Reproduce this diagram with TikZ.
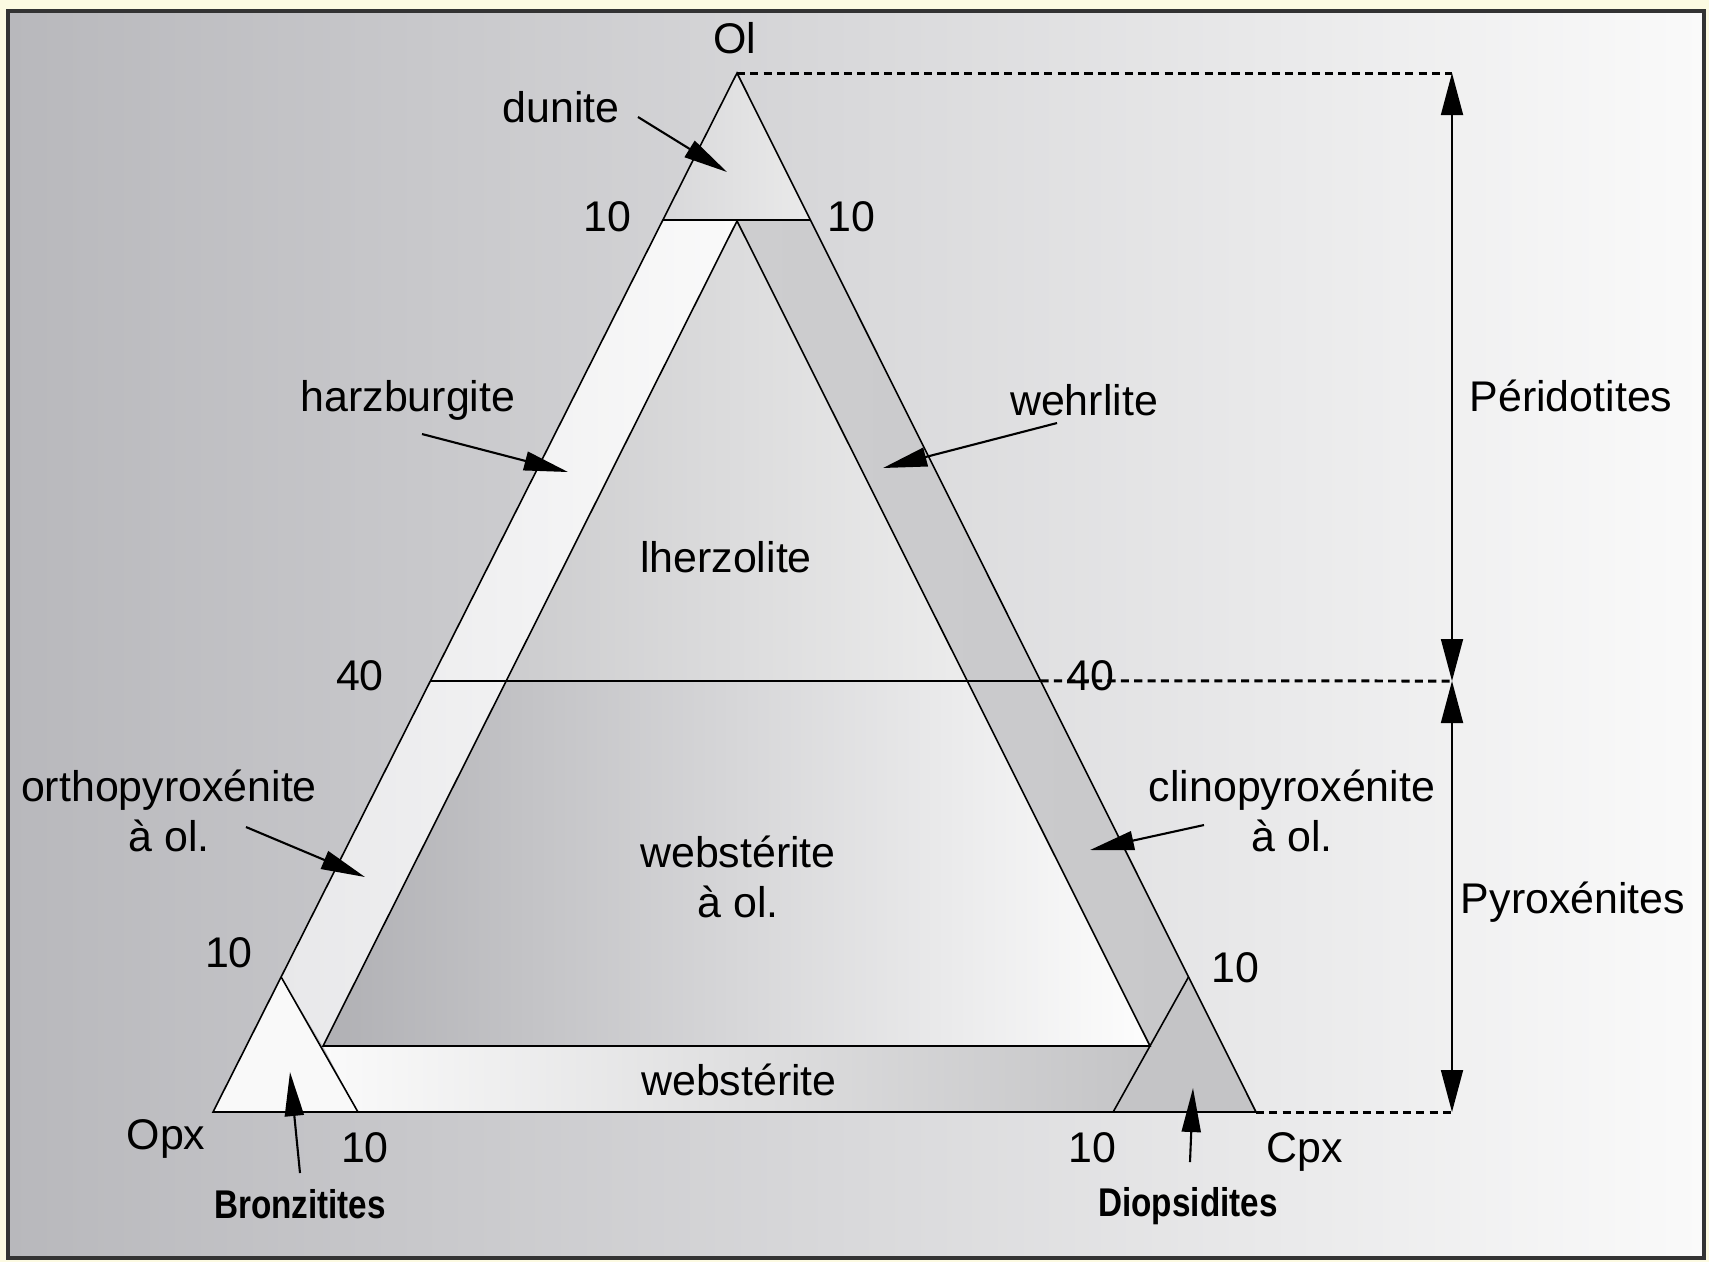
\documentclass[tikz,border=0pt]{standalone}
\usepackage{fontspec}
\usepackage{graphicx}
\setmainfont{Liberation Sans}
\usetikzlibrary{arrows.meta,calc}
\definecolor{bgyellow}{RGB}{252,250,226}
\definecolor{panelL}{RGB}{184,184,188}
\definecolor{panelR}{RGB}{250,250,250}
\definecolor{dunL}{RGB}{216,216,218}
\definecolor{dunR}{RGB}{234,234,234}
\definecolor{harL}{RGB}{232,232,234}
\definecolor{harR}{RGB}{250,250,250}
\definecolor{wehL}{RGB}{205,205,207}
\definecolor{wehR}{RGB}{200,200,202}
\definecolor{websL}{RGB}{250,250,250}
\definecolor{websR}{RGB}{196,196,198}
\definecolor{bronC}{RGB}{249,249,249}
\definecolor{diopC}{RGB}{196,196,198}
\definecolor{lheL}{RGB}{204,204,206}
\definecolor{lheR}{RGB}{236,236,236}
\definecolor{wolL}{RGB}{176,176,180}
\definecolor{wolR}{RGB}{253,253,253}
\begin{document}
\begin{tikzpicture}[x=0.01cm,y=-0.01cm,
  edge/.style={draw=black, line width=0.45pt},
  dimdash/.style={draw=black, line width=0.85pt, dash pattern=on 2.3pt off 1.5pt},
  dimarrow/.style={draw=black, line width=0.5pt, {Triangle[length=0.42cm,width=0.22cm]}-{Triangle[length=0.42cm,width=0.22cm]}},
  ptr/.style={draw=black, line width=0.6pt, -{Triangle[length=0.44cm,width=0.19cm]}},
  lbl/.style={font=\fontsize{12.2}{14}\selectfont, inner sep=0pt, align=center},
  blbl/.style={font=\bfseries\fontsize{11.4}{13}\selectfont, inner sep=0pt}]
\useasboundingbox (0,0) rectangle (1709,1262);
\fill[bgyellow] (0,0) rectangle (1709,1262);
\shade[left color=panelL, right color=panelR] (8,11) rectangle (1704,1258);
\draw[line width=0.9pt, draw=black!80] (8,11) rectangle (1704,1258);

% main vertices
\coordinate (A) at (737,73);
\coordinate (B) at (213,1112);
\coordinate (C) at (1256,1112);
\coordinate (Ia) at (737,221);
\coordinate (Il) at (323,1046);
\coordinate (Ir) at (1150,1046);
\coordinate (Lt) at ($(A)!0.1415!(B)$);
\coordinate (Rt) at ($(A)!0.1415!(C)$);
\coordinate (L40) at ($(A)!0.585!(B)$);
\coordinate (R40) at ($(A)!0.585!(C)$);
\coordinate (IL40) at ($(Ia)!0.557!(Il)$);
\coordinate (IR40) at ($(Ia)!0.557!(Ir)$);
\coordinate (Lb) at ($(A)!0.87!(B)$);
\coordinate (Rb) at ($(A)!0.87!(C)$);
\coordinate (Bb) at ($(B)!0.139!(C)$);
\coordinate (Cb) at ($(C)!0.137!(B)$);
\coordinate (DT) at (1452,73);
\coordinate (DM) at (1452,681);
\coordinate (DB) at (1452,1112);

% region fills
\shade[left color=dunL, right color=dunR] (A) -- (Rt) -- (Lt) -- cycle;
\shade[left color=harL, right color=harR] (Lt) -- (Ia) -- (Il) -- (Lb) -- cycle;
\shade[left color=wehL, right color=wehR] (Ia) -- (Rt) -- (Rb) -- (Ir) -- cycle;
\shade[left color=websL, right color=websR] (Il) -- (Ir) -- (Cb) -- (Bb) -- cycle;
\fill[bronC] (Lb) -- (B) -- (Bb) -- cycle;
\fill[diopC] (Rb) -- (C) -- (Cb) -- cycle;
\shade[left color=lheL, right color=lheR] (Ia) -- (IR40) -- (IL40) -- cycle;
\shade[left color=wolL, right color=wolR] (IL40) -- (IR40) -- (Ir) -- (Il) -- cycle;

% lines
\draw[edge] (A) -- (B) -- (C) -- cycle;
\draw[edge] (Ia) -- (Il) -- (Ir) -- cycle;
\draw[edge] (Lt) -- (Rt);
\draw[edge] (L40) -- (R40);
\draw[edge] (Lb) -- (Bb);
\draw[edge] (Rb) -- (Cb);

% dimension lines
\draw[dimdash] (A) -- (DT);
\draw[dimdash] (R40) -- (DM);
\draw[dimdash] (C) -- (DB);
\draw[dimarrow] (DT) -- (DM);
\draw[dimarrow] (DM) -- (DB);

% labels
\node[lbl] (ol) at (735,38) {Ol};
\node[lbl] (dun) at (561,107) {dunite};
\node[lbl] (t10l) at (607,217) {10};
\node[lbl] (t10r) at (851,217) {10};
\node[lbl] (harz) at (408,400) {harzburgite};
\node[lbl] (wehr) at (1084,400) {wehrlite};
\node[lbl] (peri) at (1571,396) {Péridotites};
\node[lbl] (lherz) at (726,557) {lherzolite};
\node[lbl] (f40l) at (360,676) {40};
\node[lbl] (f40r) at (1090,676) {40};
\node[lbl] (orth) at (169,811) {orthopyroxénite\\à ol.};
\node[lbl] (clin) at (1292,811) {clinopyroxénite\\à ol.};
\node[lbl] (webol) at (738,877) {webstérite\\à ol.};
\node[lbl] (pyro) at (1573,902) {Pyroxénites};
\node[lbl] (b10l) at (229,953) {10};
\node[lbl] (b10r) at (1235,968) {10};
\node[lbl] (webs) at (739,1080) {webstérite};
\node[lbl] (opx) at (166,1139) {Opx};
\node[lbl] (c10l) at (365,1148) {10};
\node[lbl] (c10r) at (1092,1148) {10};
\node[lbl] (cpx) at (1305,1152) {Cpx};
\node[blbl] (bron) at (300,1204) {\scalebox{0.83}[1]{Bronzitites}};
\node[blbl] (diop) at (1188,1206) {\scalebox{0.83}[1]{Diopsidites}};

% pointer arrows
\coordinate (dunS) at (638,117); \coordinate (dunT) at (727,172);
\coordinate (harS) at (422,434); \coordinate (harT) at (568,472);
\coordinate (wehS) at (1057,423); \coordinate (wehT) at (883,468);
\coordinate (ortS) at (246,827); \coordinate (ortT) at (365,877);
\coordinate (cliS) at (1204,825); \coordinate (cliT) at (1090,850);
\coordinate (broS) at (300,1173); \coordinate (broT) at (290,1072);
\coordinate (dioS) at (1190,1162); \coordinate (dioT) at (1193,1088);
\draw[ptr] (dunS) -- (dunT);
\draw[ptr] (harS) -- (harT);
\draw[ptr] (wehS) -- (wehT);
\draw[ptr] (ortS) -- (ortT);
\draw[ptr] (cliS) -- (cliT);
\draw[ptr] (broS) -- (broT);
\draw[ptr] (dioS) -- (dioT);
\end{tikzpicture}
\end{document}
